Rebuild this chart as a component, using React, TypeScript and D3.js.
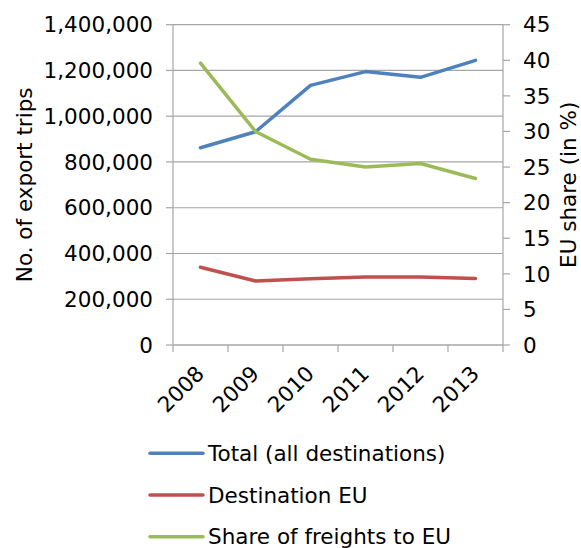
import React from "react";
import * as d3 from "d3";

const years = ["2008", "2009", "2010", "2011", "2012", "2013"];
const totalTrips = [862000, 932000, 1135000, 1195000, 1170000, 1244000];
const euTrips = [340000, 280000, 290000, 297000, 297000, 291000];
const euShare = [39.6, 30.0, 26.1, 25.0, 25.5, 23.4];
const leftTicks = [0, 200000, 400000, 600000, 800000, 1000000, 1200000, 1400000];
const rightTicks = [0, 5, 10, 15, 20, 25, 30, 35, 40, 45];
const seriesNames = ["Total (all destinations)", "Destination EU", "Share of freights to EU"];
const colors = ["#4F81BD", "#C0504D", "#9BBB59"];

const W = 581;
const H = 548;
const L = 173;
const R = 503;
const T = 24.7;
const B = 345;
const FONT = "Verdana, 'DejaVu Sans', sans-serif";
const FS = 21.5;

export default function App() {
  const xBand = d3.scaleBand<string>().domain(years).range([L, R]);
  const xc = (y: string) => (xBand(y) as number) + xBand.bandwidth() / 2;
  const yL = d3.scaleLinear().domain([0, 1400000]).range([B, T]);
  const yR = d3.scaleLinear().domain([0, 45]).range([B, T]);
  const fmt = d3.format(",");

  const lineL = d3
    .line<number>()
    .x((_, i) => xc(years[i]))
    .y((d) => yL(d));
  const lineR = d3
    .line<number>()
    .x((_, i) => xc(years[i]))
    .y((d) => yR(d));

  const gridColor = "#A6A6A6";
  const boundaries = d3.range(years.length + 1).map((i) => L + i * xBand.step());

  return (
    <svg
      width={W}
      height={H}
      style={{ position: "absolute", left: 0, top: 0, background: "#fff" }}
      fontFamily={FONT}
    >
      {/* gridlines */}
      {leftTicks.map((t) => (
        <line key={"g" + t} x1={L} x2={R} y1={yL(t)} y2={yL(t)} stroke={gridColor} strokeWidth={1.2} />
      ))}
      {/* left axis */}
      <line x1={L} x2={L} y1={T} y2={B} stroke={gridColor} strokeWidth={1.2} />
      {leftTicks.map((t) => (
        <g key={"lt" + t}>
          <line x1={L - 7} x2={L} y1={yL(t)} y2={yL(t)} stroke={gridColor} strokeWidth={1.2} />
          <text x={153} y={yL(t)} dy="0.36em" textAnchor="end" fontSize={FS} fill="#000">
            {fmt(t)}
          </text>
        </g>
      ))}
      {/* right axis */}
      <line x1={R} x2={R} y1={T} y2={B} stroke={gridColor} strokeWidth={1.2} />
      {rightTicks.map((t) => (
        <g key={"rt" + t}>
          <line x1={R} x2={R + 7} y1={yR(t)} y2={yR(t)} stroke={gridColor} strokeWidth={1.2} />
          <text x={523} y={yR(t)} dy="0.36em" textAnchor="start" fontSize={FS} fill="#000">
            {t}
          </text>
        </g>
      ))}
      {/* x axis */}
      <line x1={L} x2={R} y1={B} y2={B} stroke={gridColor} strokeWidth={1.2} />
      {boundaries.map((bx, i) => (
        <line key={"xt" + i} x1={bx} x2={bx} y1={B} y2={B + 7} stroke={gridColor} strokeWidth={1.2} />
      ))}
      {years.map((y) => (
        <text
          key={"xl" + y}
          transform={`translate(${xc(y) + 5},${375}) rotate(-45)`}
          textAnchor="end"
          fontSize={FS}
          fill="#000"
        >
          {y}
        </text>
      ))}
      {/* axis titles */}
      <text
        transform={`translate(32,${(T + B) / 2}) rotate(-90)`}
        textAnchor="middle"
        fontSize={FS}
        fill="#000"
      >
        No. of export trips
      </text>
      <text
        transform={`translate(576,${(T + B) / 2}) rotate(-90)`}
        textAnchor="middle"
        fontSize={FS}
        fill="#000"
      >
        EU share (in %)
      </text>
      {/* series */}
      <path d={lineL(totalTrips) || ""} fill="none" stroke={colors[0]} strokeWidth={3.5} strokeLinejoin="round" strokeLinecap="round" />
      <path d={lineL(euTrips) || ""} fill="none" stroke={colors[1]} strokeWidth={3.5} strokeLinejoin="round" strokeLinecap="round" />
      <path d={lineR(euShare) || ""} fill="none" stroke={colors[2]} strokeWidth={3.5} strokeLinejoin="round" strokeLinecap="round" />
      {/* legend */}
      {seriesNames.map((n, i) => {
        const ly = 453.3 + i * 41.7;
        return (
          <g key={"lg" + i}>
            <line x1={150} x2={203} y1={ly} y2={ly} stroke={colors[i]} strokeWidth={3.5} strokeLinecap="round" />
            <text x={208} y={ly} dy="0.36em" fontSize={FS} fill="#000">
              {n}
            </text>
          </g>
        );
      })}
    </svg>
  );
}
